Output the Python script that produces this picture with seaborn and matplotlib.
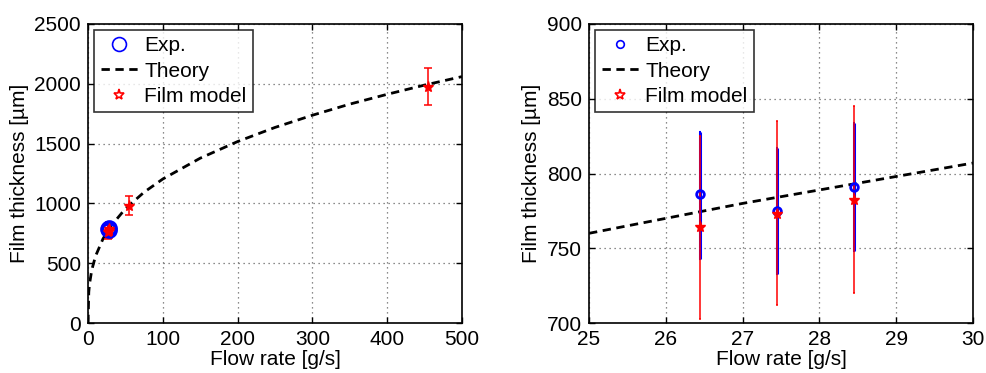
import matplotlib
matplotlib.use("Agg")
import matplotlib.pyplot as plt
import pandas as pd
import seaborn as sns
from matplotlib.lines import Line2D

# Datos experimentales (caudal g/s, espesor µm, barras de error)
exp_q = [26.45, 27.45, 28.45]
exp_h = [786, 775, 791]
exp_lo = [743, 733, 748]
exp_hi = [828, 817, 834]

# Modelo de película
film_q = [26.45, 27.45, 28.45, 55, 455]
film_h = [764, 773, 782, 980, 1975]
film_lo = [703, 712, 720, 905, 1825]
film_hi = [825, 835, 845, 1065, 2135]

# Curva teórica
theory_q = [0, 1, 2, 5, 10, 20, 30, 50, 75, 100, 150, 200, 250, 300, 350, 400, 450, 500]
theory_h = [0, 260, 327, 444, 559, 704, 806, 956, 1094, 1204, 1378, 1517, 1635, 1737,
            1830, 1912, 1989, 2060]
zoom_q = [25, 26, 27, 28, 29, 30]
zoom_h = [760, 770, 780, 789, 798, 807]

sns.set_theme(style="ticks")
plt.rcParams["font.family"] = ["Liberation Sans", "DejaVu Sans"]
plt.rcParams["font.size"] = 15
plt.rcParams["text.color"] = "black"
plt.rcParams["axes.labelcolor"] = "black"

fig = plt.figure(figsize=(9.87, 3.73), dpi=100)
ax1 = fig.add_axes([0.0892, 0.134, 0.3788, 0.8017])
ax2 = fig.add_axes([0.5968, 0.134, 0.3890, 0.8017])


def panel(ax, tq, th, xlim, ylim, xticks, yticks, ms, cap):
    sns.lineplot(x=tq, y=th, ax=ax, color="black", lw=2, zorder=3)
    ax.get_lines()[-1].set_dashes((3, 2))
    err_e = [[h - l for h, l in zip(exp_h, exp_lo)], [u - h for h, u in zip(exp_h, exp_hi)]]
    ax.errorbar(exp_q, exp_h, yerr=err_e, fmt="none", ecolor="blue", elinewidth=2.2,
                capsize=cap, capthick=1.5, zorder=4)
    err_f = [[h - l for h, l in zip(film_h, film_lo)], [u - h for h, u in zip(film_h, film_hi)]]
    ax.errorbar(film_q, film_h, yerr=err_f, fmt="none", ecolor="red", elinewidth=1.1,
                capsize=cap, capthick=1.1, zorder=5)
    ax.plot(exp_q, exp_h, "o", mfc="none", mec="blue", ms=ms, mew=2, zorder=6)
    ax.plot(film_q, film_h, "*", color="red", ms=8, mew=1, zorder=7)

    ax.set_xlim(xlim)
    ax.set_ylim(ylim)
    ax.set_xticks(xticks)
    ax.set_yticks(yticks)
    ax.grid(True, linestyle=(0, (1, 3)), color="#666666", lw=0.9)
    ax.tick_params(direction="in", length=4, width=1, colors="black", labelsize=15,
                   top=True, right=True, pad=5)
    for s in ax.spines.values():
        s.set_visible(True)
        s.set_color("black")
        s.set_linewidth(1.2)
    ax.set_xlabel("Flow rate [g/s]", fontsize=15, labelpad=1, color="black")
    ax.set_ylabel("Film thickness [µm]", fontsize=15, labelpad=4, color="black")

    handles = [
        Line2D([], [], ls="none", marker="o", mfc="none", mec="blue", ms=ms, mew=1.2),
        Line2D([], [], color="black", lw=2, dashes=(3, 2)),
        Line2D([], [], ls="none", marker="*", mfc="none", mec="red", ms=8, mew=1.2),
    ]
    leg = ax.legend(handles, ["Exp.", "Theory", "Film model"], loc="upper left",
                    fontsize=15, frameon=True, fancybox=False, handlelength=1.8,
                    handletextpad=0.3, borderpad=0.3, labelspacing=0.3,
                    borderaxespad=0.3)
    leg.get_frame().set_edgecolor("black")
    leg.get_frame().set_linewidth(1.2)
    leg.set_zorder(10)


panel(ax1, theory_q, theory_h, (0, 500), (0, 2500), range(0, 501, 100),
      range(0, 2501, 500), 10, 3)
panel(ax2, zoom_q, zoom_h, (25, 30), (700, 900), range(25, 31), range(700, 901, 50), 5.5, 1)

fig.savefig("out.png", dpi=100)
